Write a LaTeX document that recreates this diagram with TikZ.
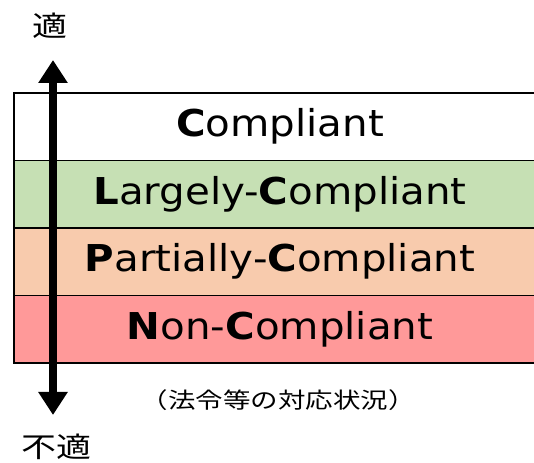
\documentclass[tikz,border=0pt]{standalone}
\usepackage{fontspec}
\setmainfont[FakeStretch=1.09]{DejaVu Sans}
\newfontfamily\jpfont[FakeStretch=1.25]{Noto Sans CJK JP}
\usetikzlibrary{arrows.meta,positioning}
\definecolor{lcgreen}{HTML}{C6E0B4}
\definecolor{pcpeach}{HTML}{F8CBAD}
\definecolor{ncred}{HTML}{FF9999}

\begin{document}
\begin{tikzpicture}[
  x=1pt,y=1pt,
  >={Triangle[width=28pt,length=23pt]},
  level/.style={draw,line width=1.2pt,outer sep=0pt,inner sep=0pt,
    minimum width=532pt,minimum height=67.5pt,
    font=\fontsize{37}{40}\selectfont},
  jplabel/.style={inner sep=0pt,font=\jpfont\fontsize{28}{30}\selectfont},
  node distance=0pt,
  ]
  \useasboundingbox (0,0) rectangle (534,462);
  \node[level, fill=white] (C) at (280,335.25) {\textbf{C}ompliant};
  \node[level, fill=lcgreen, below = of C] (LC) {\textbf{L}argely-\textbf{C}ompliant};
  \node[level, fill=pcpeach, below = of LC] (PC) {\textbf{P}artially-\textbf{C}ompliant};
  \node[level, fill=ncred, below = of PC] (NC) {\textbf{N}on-\textbf{C}ompliant};

  \coordinate (top) at (53,402);
  \coordinate (bot) at (53,47);
  \draw [<->, line width=8pt] (bot) -- (top);

  \node[jplabel] (good) at (50,436) {適};
  \node[jplabel] (bad) at (56,15) {不適};
  \node[jplabel, font=\jpfont\fontsize{22}{24}\selectfont] (note) at (278,62) {（法令等の対応状況）};
\end{tikzpicture}
\end{document}
